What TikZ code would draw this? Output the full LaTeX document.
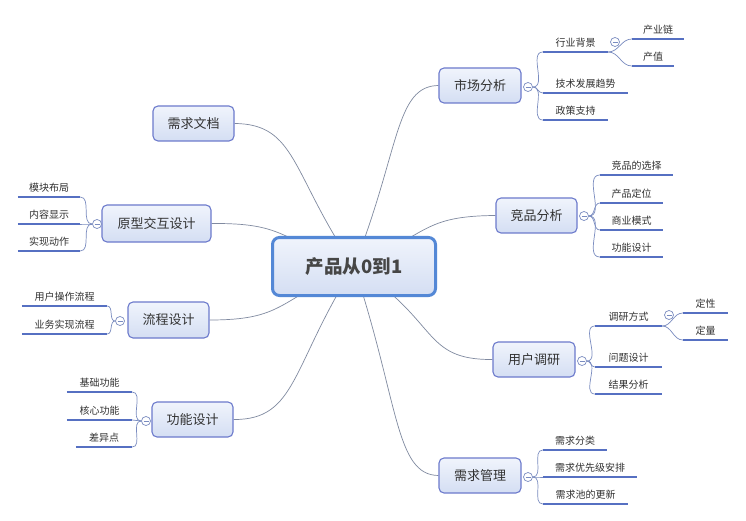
\documentclass[tikz,border=0pt]{standalone}
\usepackage{fontspec}
\newfontfamily\cjk{Noto Sans CJK SC}
\usetikzlibrary{backgrounds}
\definecolor{boxborder}{RGB}{108,122,204}
\definecolor{boxtop}{RGB}{240,244,252}
\definecolor{boxbot}{RGB}{212,222,243}
\definecolor{rootborder}{RGB}{84,136,214}
\definecolor{ulc}{RGB}{86,112,194}
\definecolor{brc}{RGB}{122,140,192}
\definecolor{connc}{RGB}{128,138,160}
\definecolor{txt}{RGB}{50,50,50}
\definecolor{roottxt}{RGB}{70,70,70}
\tikzset{
  mainbox/.style={draw=boxborder, line width=1.1pt, rounded corners=5pt,
    top color=boxtop, bottom color=boxbot, text=txt, inner sep=0pt,
    font=\cjk\fontsize{13}{15}\selectfont, minimum width=82pt, minimum height=35pt},
  rootbox/.style={draw=rootborder, line width=3pt, rounded corners=7pt,
    top color=boxtop, bottom color=boxbot, text=roottxt, inner sep=0pt,
    font=\cjk\bfseries\fontsize{18.5}{21}\selectfont, minimum width=163pt, minimum height=58pt},
  leaf/.style={font=\cjk\fontsize{10}{12}\selectfont, text=txt, inner xsep=0pt,
    inner ysep=3.5pt, text height=7.5pt, text depth=1.5pt, anchor=south},
  uline/.style={draw=ulc, line width=2.6pt},
  bracket/.style={draw=brc, line width=0.7pt},
  conn/.style={draw=connc, line width=0.7pt},
  toggle/.style={circle, draw=brc, fill=white, line width=0.7pt, minimum size=9pt, inner sep=0pt,
    path picture={\draw[brc, line width=0.6pt]
      ([xshift=-2.5pt]path picture bounding box.center) -- ([xshift=2.5pt]path picture bounding box.center);}}
}
\begin{document}
\begin{tikzpicture}[x=1pt,y=-1pt]
\useasboundingbox (0,0) rectangle (746,521);

% root and main topics
\node[rootbox] (root) at (354,266.5) {产品从0到1};
\node[mainbox] (mkt) at (480,85.5) {市场分析};
\node[mainbox, minimum width=81pt] (jp) at (536.5,215.5) {竞品分析};
\node[mainbox] (yh) at (534,359.5) {用户调研};
\node[mainbox] (xqgl) at (480,475.5) {需求管理};
\node[mainbox, minimum width=81pt] (xqwd) at (193.5,123.5) {需求文档};
\node[mainbox, minimum width=109pt, minimum height=37pt] (yx) at (156.5,223.5) {原型交互设计};
\node[mainbox, minimum width=81pt, minimum height=36pt] (lc) at (168.5,320) {流程设计};
\node[mainbox, minimum width=81pt] (gn) at (192.5,419.5) {功能设计};

% connectors from root (behind)
\begin{scope}[on background layer]
\fill[white] (0,0) rectangle (746,521);
\draw[conn] (root.center) .. controls (400,150) and (395,86) .. (mkt.west);
\draw[conn] (root.center) .. controls (429,234) and (422,216) .. (jp.west);
\draw[conn] (root.center) .. controls (440,320) and (421,360) .. (yh.west);
\draw[conn] (root.center) .. controls (399,402) and (395,475) .. (xqgl.west);
\draw[conn] (root.center) .. controls (291,366) and (297,420) .. (gn.east);
\draw[conn] (root.center) .. controls (277,301) and (284,320) .. (lc.east);
\draw[conn] (root.center) .. controls (278,238) and (285,223) .. (yx.east);
\draw[conn] (root.center) .. controls (291,174) and (297,124) .. (xqwd.east);
\end{scope}

% ---- 市场分析
\node[leaf, minimum width=65pt] (hybj) at (575.5,52) {行业背景};
\node[leaf, minimum width=85pt] (jsfz) at (585.5,93) {技术发展趋势};
\node[leaf, minimum width=65pt] (zczc) at (575.5,120) {政策支持};
\node[leaf, minimum width=52pt] (cyl) at (658,39) {产业链};
\node[leaf, minimum width=42pt] (cz) at (653,66) {产值};
% ---- 竞品分析
\node[leaf, minimum width=73pt] (jpxz) at (636.5,175) {竞品的选择};
\node[leaf, minimum width=63pt] (cpdw) at (631.5,203) {产品定位};
\node[leaf, minimum width=63pt] (syms) at (631.5,230) {商业模式};
\node[leaf, minimum width=63pt] (gnsj) at (631.5,257) {功能设计};
% ---- 用户调研
\node[leaf, minimum width=67pt] (dyfs) at (628.5,326) {调研方式};
\node[leaf, minimum width=67pt] (wtsj) at (628.5,367) {问题设计};
\node[leaf, minimum width=67pt] (jgfx) at (628.5,394) {结果分析};
\node[leaf, minimum width=45pt] (dx) at (705.5,313) {定性};
\node[leaf, minimum width=45pt] (dl) at (705.5,340) {定量};
% ---- 需求管理
\node[leaf, minimum width=64pt] (xqfl) at (575,450) {需求分类};
\node[leaf, minimum width=94pt] (xqyx) at (590,477) {需求优先级安排};
\node[leaf, minimum width=85pt] (xqc) at (585.5,504) {需求池的更新};
% ---- 原型交互设计
\node[leaf, minimum width=62pt] (mkbj) at (49,197) {模块布局};
\node[leaf, minimum width=62pt] (nrxs) at (49,224) {内容显示};
\node[leaf, minimum width=62pt] (sxdz) at (49,251) {实现动作};
% ---- 流程设计
\node[leaf, minimum width=85pt] (yhcz) at (64.5,306) {用户操作流程};
\node[leaf, minimum width=85pt] (ywsx) at (64.5,334) {业务实现流程};
% ---- 功能设计
\node[leaf, minimum width=65pt] (jcgn) at (99.5,392) {基础功能};
\node[leaf, minimum width=65pt] (hxgn) at (99.5,420) {核心功能};
\node[leaf, minimum width=56pt] (cyd) at (104,447) {差异点};

% toggles
\node[toggle] (tmkt) at (528,87) {};
\node[toggle] (thy) at (615,42) {};
\node[toggle] (tjp) at (584,216) {};
\node[toggle] (tyh) at (582,361) {};
\node[toggle] (tdy) at (669,315) {};
\node[toggle] (txq) at (528,477) {};
\node[toggle] (tyx) at (97,224) {};
\node[toggle] (tlc) at (120,321) {};
\node[toggle] (tgn) at (146,421) {};

% brackets
\foreach \t/\l in {tmkt/hybj, tmkt/jsfz, tmkt/zczc, tjp/jpxz, tjp/cpdw, tjp/syms, tjp/gnsj,
                   tyh/dyfs, tyh/wtsj, tyh/jgfx, txq/xqfl, txq/xqyx, txq/xqc}
  \draw[bracket] (\t.east) to[out=0,in=180] (\l.south west);
\foreach \l in {cyl, cz}
  \draw[bracket] (hybj.south east) to[out=0,in=180] (\l.south west);
\foreach \l in {dx, dl}
  \draw[bracket] (dyfs.south east) to[out=0,in=180] (\l.south west);
\foreach \t/\l in {tyx/mkbj, tyx/nrxs, tyx/sxdz, tlc/yhcz, tlc/ywsx, tgn/jcgn, tgn/hxgn, tgn/cyd}
  \draw[bracket] (\t.west) to[out=180,in=0] (\l.south east);

% underlines
\foreach \l in {hybj, jsfz, zczc, cyl, cz, jpxz, cpdw, syms, gnsj, dyfs, wtsj, jgfx, dx, dl,
                xqfl, xqyx, xqc, mkbj, nrxs, sxdz, yhcz, ywsx, jcgn, hxgn, cyd}
  \draw[uline] (\l.south west) -- (\l.south east);
\end{tikzpicture}
\end{document}
